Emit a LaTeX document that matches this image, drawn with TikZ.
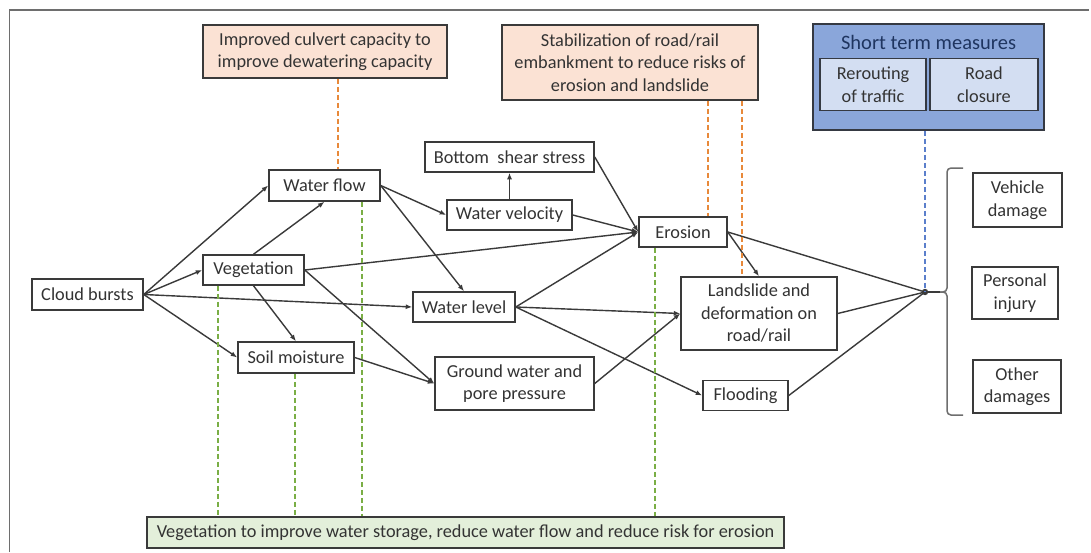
\documentclass[tikz,border=0pt]{standalone}
\usepackage{fontspec}
\setmainfont{Carlito}
\usetikzlibrary{arrows.meta}
\definecolor{ink}{HTML}{333333}
\definecolor{edge}{HTML}{3A3A3A}
\definecolor{frame}{HTML}{6E6E6E}
\definecolor{peach}{HTML}{FBE2D4}
\definecolor{leaf}{HTML}{E3EFDA}
\definecolor{sky}{HTML}{8AA6DA}
\definecolor{skybg}{HTML}{D3DEF2}
\definecolor{navy}{HTML}{1F3560}
\definecolor{orangedash}{HTML}{E8893A}
\definecolor{greendash}{HTML}{7AAE45}
\definecolor{bluedash}{HTML}{5B7FCB}

\begin{document}
\begin{tikzpicture}[
 x=1pt,y=-1pt,font=\fontsize{18.3}{22.5}\selectfont,
 box/.style={draw=edge,line width=1.5pt,fill=white,text=ink,align=center,inner sep=0pt},
 measure/.style={box,fill=peach},
 greenbox/.style={box,fill=leaf},
 shortbox/.style={box,fill=sky,draw=edge!80!navy},
 subbox/.style={box,fill=skybg,draw=edge!80!navy},
 arr/.style={-{Latex[length=6.5pt,width=5pt]},draw=edge,line width=1.4pt},
 link/.style={draw=edge,line width=1.4pt},
 odash/.style={orangedash,dash pattern=on 5pt off 3pt,line width=2pt},
 gdash/.style={greendash,dash pattern=on 5pt off 3pt,line width=2pt},
 bdash/.style={bluedash,dash pattern=on 5pt off 3pt,line width=2pt},
 brace/.style={draw=frame,line width=1.5pt,rounded corners=4pt}
]
\useasboundingbox (0,0) rectangle (1091,552);
\fill[white] (0,0) rectangle (1091,552);
\draw[frame,line width=1.2pt] (9.5,552)--(9.5,10)--(1089,10);

% Measures on top.
\node[measure,minimum width=244pt,minimum height=53pt] (culvert) at (325,51.5) {Improved culvert capacity to\\improve dewatering capacity};
\node[measure,minimum width=256pt,minimum height=75pt] (stab) at (630,62.5) {Stabilization of road/rail\\embankment to reduce risks of\\erosion and landslide};
\node[shortbox,minimum width=231pt,minimum height=106pt] (short) at (928.5,77) {};
\node[text=navy,font=\fontsize{20.5}{24}\selectfont] (shorttitle) at (928.5,42) {Short term measures};
\node[subbox,minimum width=106pt,minimum height=52pt] (reroute) at (873,84.5) {Rerouting\\of traffic};
\node[subbox,minimum width=108pt,minimum height=52pt] (closure) at (984,84.5) {Road\\closure};

% Causal chain.
\node[box,minimum width=111pt,minimum height=31pt] (cloud) at (87.5,294.5) {Cloud bursts};
\node[box,minimum width=101pt,minimum height=30pt] (veg) at (253.5,270) {Vegetation};
\node[box,minimum width=111pt,minimum height=31pt] (flow) at (324.5,185.5) {Water flow};
\node[box,minimum width=116pt,minimum height=31pt] (soil) at (296,357.5) {Soil moisture};
\node[box,minimum width=169pt,minimum height=30pt] (shear) at (509.5,157) {Bottom\ \ shear stress};
\node[box,minimum width=125pt,minimum height=30pt] (velocity) at (509.5,215) {Water velocity};
\node[box,minimum width=102pt,minimum height=30pt] (level) at (464,307) {Water level};
\node[box,minimum width=159pt,minimum height=53pt] (ground) at (514.5,383.5) {Ground water and\\pore pressure};
\node[box,minimum width=88pt,minimum height=30pt] (erosion) at (683,232) {Erosion};
\node[box,minimum width=156pt,minimum height=73pt] (landslide) at (759,313.5) {Landslide and\\deformation on\\road/rail};
\node[box,minimum width=85pt,minimum height=30pt] (flooding) at (745.5,395.5) {Flooding};

% Consequences.
\node[box,minimum width=89pt,minimum height=54pt] (vehicle) at (1017.5,200) {Vehicle\\damage};
\node[box,minimum width=86pt,minimum height=52pt] (injury) at (1015,293) {Personal\\injury};
\node[box,minimum width=88pt,minimum height=53pt] (other) at (1017,386.5) {Other\\damages};
\node[greenbox,minimum width=637pt,minimum height=31pt] (green) at (465.5,532.5) {Vegetation to improve water storage, reduce water flow and reduce risk for erosion};

\draw[arr] (cloud.east) -- (flow.west);
\draw[arr] (cloud.east) -- (veg.west);
\draw[arr] (cloud.east) -- (level.west);
\draw[arr] (cloud.east) -- (soil.west);
\draw[arr] (veg.north) -- (flow.south);
\draw[arr] (veg.east) -- (erosion.west);
\draw[arr] (veg.south) -- (soil.north);
\draw[arr] (veg.east) -- (ground.west);
\draw[arr] (flow.east) -- (velocity.west);
\draw[arr] (flow.east) -- (level.north);
\draw[arr] (velocity.north) -- (shear.south);
\draw[arr] (velocity.east) -- (erosion.west);
\draw[arr] (shear.east) -- (erosion.west);
\draw[arr] (soil.east) -- (ground.west);
\draw[arr] (level.east) -- (erosion.west);
\draw[arr] (level.east) -- (landslide.west);
\draw[arr] (level.east) -- (flooding.west);
\draw[arr] (ground.east) -- (landslide.west);
\draw[arr] (erosion.east) -- (landslide.north);

% Everything meets in one point before the consequences.
\coordinate (jn) at (925,292);
\coordinate (tip) at (940,292);
\draw[link] (erosion.east) -- (jn);
\draw[link] (landslide.east) -- (jn);
\draw[link] (flooding.east) -- (jn);
\draw[link] (jn) -- (tip);
\fill[edge] (jn) circle (3.2pt);
\draw[brace] (963,168) -- (947,168) -- (947,292) -- (tip);
\draw[brace] (tip) -- (947,292) -- (947,415) -- (963,415);

% Where the measures act.
\coordinate (o1) at (338,0);
\coordinate (o2) at (708,0);
\coordinate (o3) at (742,0);
\draw[odash] (culvert.south -| o1) -- (flow.north -| o1);
\draw[odash] (stab.south -| o2) -- (erosion.north -| o2);
\draw[odash] (stab.south -| o3) -- (landslide.north -| o3);
\draw[bdash] (short.south -| jn) -- (jn);
\coordinate (g1) at (218,0);
\coordinate (g2) at (295,0);
\coordinate (g3) at (362,0);
\coordinate (g4) at (655,0);
\draw[gdash] (veg.south -| g1) -- (green.north -| g1);
\draw[gdash] (soil.south -| g2) -- (green.north -| g2);
\draw[gdash] (flow.south -| g3) -- (green.north -| g3);
\draw[gdash] (erosion.south -| g4) -- (green.north -| g4);
\end{tikzpicture}
\end{document}
